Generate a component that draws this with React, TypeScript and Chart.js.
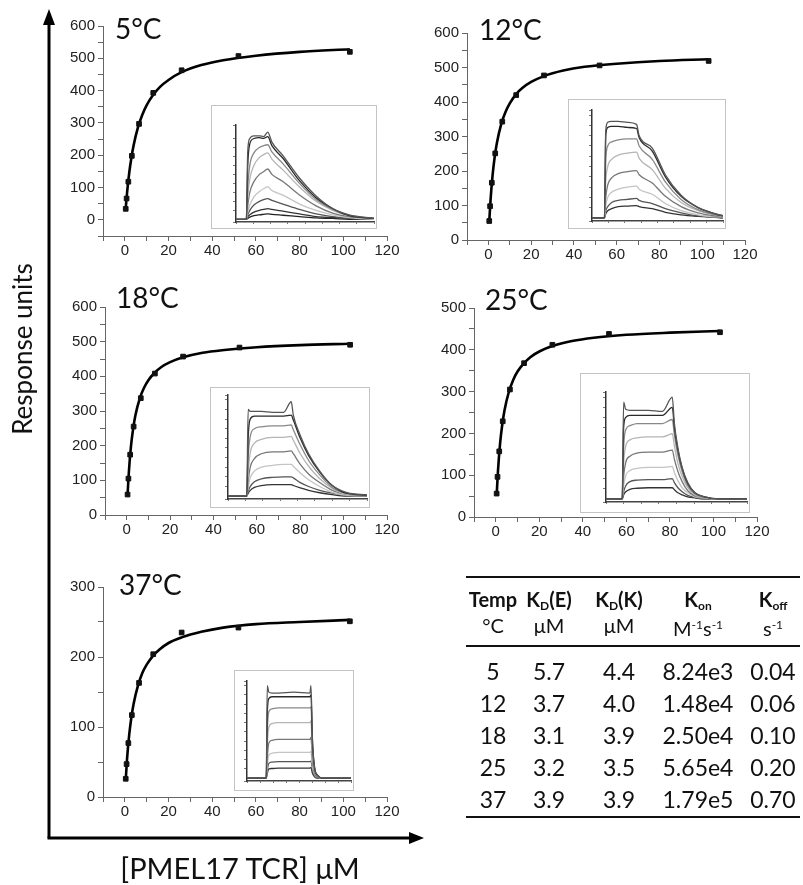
import React, { useEffect, useRef } from "react";
import { Chart, registerables } from "chart.js";
Chart.register(...registerables);

// ---------- data ----------
const concentrations = [0.4, 0.8, 1.6, 3.2, 6.5, 13, 26, 52, 103];
const resp5 = [34, 66, 118, 198, 297, 393, 463, 507, 520];
const resp12 = [55, 98, 166, 251, 343, 420, 477, 506, 519];
const resp18 = [59, 105, 174, 255, 337, 408, 457, 483, 491];
const resp25 = [56, 96, 157, 229, 305, 368, 412, 438, 442];
const resp37 = [26, 47, 77, 117, 163, 204, 235, 242, 251];

const fitX = [0.4, 1, 2, 3, 4, 6, 8, 10, 13, 16, 20, 26, 35, 45, 60, 80, 103];
const fit5 = [36, 83, 145, 192, 230, 286, 325, 355, 387, 411, 433, 457, 479, 494, 508, 520, 528];
const fit12 = [53, 115, 190, 243, 282, 336, 371, 396, 423, 441, 458, 475, 491, 502, 511, 519, 524];
const fit18 = [58, 124, 200, 250, 287, 336, 367, 389, 411, 427, 441, 455, 468, 476, 484, 490, 494];
const fit25 = [51, 109, 177, 222, 255, 299, 328, 348, 368, 383, 396, 409, 421, 429, 436, 441, 445];
const fit37 = [24, 54, 89, 114, 133, 159, 177, 189, 202, 211, 220, 228, 236, 242, 247, 250, 253];

const panelTitles = ["5°C", "12°C", "18°C", "25°C", "37°C"];
const xTickLabels = ["0", "20", "40", "60", "80", "100", "120"];

// sensorgram insets (normalised time 0-100, normalised response)
const inset5Time = [0, 7.5, 8.5, 10, 13, 17, 20, 23, 26, 34, 46, 58, 70, 82, 100];
const inset5Curves = [
  [0, 0, 0.75, 0.9, 0.93, 0.93, 0.92, 0.97, 0.86, 0.71, 0.46, 0.26, 0.12, 0.05, 0.01],
  [0, 0, 0.6, 0.84, 0.9, 0.91, 0.9, 0.92, 0.82, 0.68, 0.43, 0.24, 0.12, 0.04, 0.01],
  [0, 0, 0.35, 0.6, 0.74, 0.8, 0.82, 0.83, 0.75, 0.62, 0.4, 0.22, 0.11, 0.04, 0.01],
  [0, 0, 0.25, 0.45, 0.6, 0.69, 0.72, 0.74, 0.67, 0.55, 0.36, 0.2, 0.1, 0.04, 0.01],
  [0, 0, 0.15, 0.3, 0.42, 0.5, 0.53, 0.56, 0.5, 0.42, 0.27, 0.15, 0.07, 0.03, 0.01],
  [0, 0, 0.08, 0.16, 0.25, 0.31, 0.34, 0.36, 0.32, 0.27, 0.17, 0.1, 0.05, 0.02, 0],
  [0, 0, 0.05, 0.1, 0.16, 0.2, 0.22, 0.23, 0.21, 0.17, 0.11, 0.06, 0.03, 0.01, 0],
  [0, 0, 0.03, 0.05, 0.08, 0.1, 0.11, 0.12, 0.11, 0.09, 0.06, 0.03, 0.02, 0.01, 0],
  [0, 0, 0.01, 0.025, 0.04, 0.05, 0.055, 0.06, 0.055, 0.045, 0.03, 0.015, 0.01, 0, 0],
];
const inset12Time = [0, 9.5, 10.5, 12, 15, 20, 27, 34, 36, 46, 56, 68, 81, 94, 100];
const inset12Curves = [
  [0, 0, 0.85, 0.93, 0.94, 0.94, 0.93, 0.91, 0.8, 0.68, 0.42, 0.22, 0.1, 0.04, 0.02],
  [0, 0, 0.8, 0.88, 0.89, 0.89, 0.88, 0.87, 0.78, 0.65, 0.4, 0.21, 0.1, 0.04, 0.02],
  [0, 0, 0.55, 0.7, 0.74, 0.76, 0.77, 0.77, 0.7, 0.57, 0.35, 0.18, 0.08, 0.03, 0.02],
  [0, 0, 0.35, 0.5, 0.57, 0.61, 0.63, 0.64, 0.58, 0.47, 0.29, 0.15, 0.07, 0.03, 0.01],
  [0, 0, 0.2, 0.32, 0.39, 0.43, 0.45, 0.46, 0.42, 0.34, 0.21, 0.11, 0.05, 0.02, 0.01],
  [0, 0, 0.12, 0.2, 0.25, 0.28, 0.3, 0.31, 0.28, 0.23, 0.14, 0.07, 0.03, 0.01, 0.01],
  [0, 0, 0.07, 0.11, 0.15, 0.17, 0.18, 0.19, 0.17, 0.14, 0.09, 0.05, 0.02, 0.01, 0],
  [0, 0, 0.04, 0.07, 0.09, 0.11, 0.115, 0.12, 0.11, 0.09, 0.055, 0.03, 0.015, 0.005, 0],
];
const inset18Time = [0, 13.5, 14.5, 16, 19, 24, 32, 40, 45.5, 47, 52, 58, 66, 75, 85, 100];
const inset18Curves = [
  [0, 0, 0.9, 0.88, 0.88, 0.88, 0.87, 0.87, 0.98, 0.84, 0.63, 0.44, 0.26, 0.11, 0.04, 0.01],
  [0, 0, 0.6, 0.8, 0.83, 0.83, 0.83, 0.83, 0.84, 0.79, 0.6, 0.42, 0.25, 0.11, 0.03, 0.01],
  [0, 0, 0.4, 0.62, 0.7, 0.72, 0.73, 0.73, 0.74, 0.69, 0.53, 0.37, 0.22, 0.09, 0.03, 0.01],
  [0, 0, 0.25, 0.45, 0.55, 0.59, 0.61, 0.61, 0.62, 0.58, 0.44, 0.31, 0.18, 0.08, 0.02, 0.01],
  [0, 0, 0.15, 0.3, 0.39, 0.44, 0.46, 0.46, 0.47, 0.44, 0.33, 0.23, 0.14, 0.06, 0.02, 0],
  [0, 0, 0.09, 0.19, 0.26, 0.3, 0.32, 0.33, 0.33, 0.31, 0.24, 0.17, 0.1, 0.04, 0.01, 0],
  [0, 0, 0.05, 0.1, 0.15, 0.18, 0.195, 0.2, 0.2, 0.19, 0.14, 0.1, 0.06, 0.03, 0.01, 0],
  [0, 0, 0.03, 0.06, 0.09, 0.11, 0.12, 0.12, 0.12, 0.11, 0.085, 0.06, 0.035, 0.015, 0, 0],
];
const inset25Time = [0, 11.5, 12.5, 14, 17, 22, 30, 40, 47, 48.5, 51, 54, 58, 63, 70, 80, 100];
const inset25Curves = [
  [0, 0, 0.95, 0.88, 0.87, 0.87, 0.87, 0.86, 1.0, 0.74, 0.5, 0.31, 0.16, 0.06, 0.02, 0, 0],
  [0, 0, 0.7, 0.8, 0.82, 0.82, 0.82, 0.82, 0.9, 0.7, 0.48, 0.3, 0.15, 0.06, 0.02, 0, 0],
  [0, 0, 0.5, 0.68, 0.72, 0.74, 0.74, 0.74, 0.78, 0.63, 0.43, 0.27, 0.13, 0.05, 0.015, 0, 0],
  [0, 0, 0.35, 0.52, 0.58, 0.6, 0.61, 0.61, 0.64, 0.52, 0.35, 0.22, 0.11, 0.04, 0.01, 0, 0],
  [0, 0, 0.22, 0.36, 0.42, 0.45, 0.46, 0.46, 0.48, 0.39, 0.27, 0.17, 0.08, 0.03, 0.01, 0, 0],
  [0, 0, 0.13, 0.23, 0.28, 0.3, 0.31, 0.31, 0.32, 0.26, 0.18, 0.11, 0.06, 0.02, 0.01, 0, 0],
  [0, 0, 0.07, 0.13, 0.17, 0.185, 0.19, 0.19, 0.2, 0.16, 0.11, 0.07, 0.035, 0.015, 0, 0, 0],
  [0, 0, 0.04, 0.07, 0.095, 0.105, 0.11, 0.11, 0.11, 0.09, 0.06, 0.04, 0.02, 0.01, 0, 0, 0],
];
const inset37Time = [0, 18.5, 19.5, 21, 24, 30, 45, 60.5, 61.5, 63, 65, 68, 72, 100];
const inset37Curves = [
  [0, 0, 1.0, 0.93, 0.92, 0.92, 0.93, 0.92, 1.0, 0.4, 0.12, 0.03, 0, 0],
  [0, 0, 0.7, 0.86, 0.88, 0.88, 0.88, 0.88, 0.9, 0.38, 0.11, 0.03, 0, 0],
  [0, 0, 0.5, 0.72, 0.75, 0.76, 0.76, 0.76, 0.77, 0.33, 0.1, 0.02, 0, 0],
  [0, 0, 0.35, 0.55, 0.59, 0.6, 0.6, 0.6, 0.62, 0.26, 0.08, 0.02, 0, 0],
  [0, 0, 0.22, 0.38, 0.41, 0.42, 0.42, 0.42, 0.44, 0.18, 0.05, 0.01, 0, 0],
  [0, 0, 0.14, 0.25, 0.27, 0.28, 0.28, 0.28, 0.29, 0.12, 0.04, 0.01, 0, 0],
  [0, 0, 0.09, 0.16, 0.175, 0.18, 0.18, 0.18, 0.185, 0.08, 0.02, 0, 0, 0],
  [0, 0, 0.05, 0.1, 0.105, 0.11, 0.11, 0.11, 0.115, 0.05, 0.015, 0, 0, 0],
];
const insetShades = ["#555", "#2a2a2a", "#888", "#b5b5b5", "#777", "#c4c4c4", "#555", "#333", "#222"];

// table
const tableTemps = ["5", "12", "18", "25", "37"];
const tableKdE = ["5.7", "3.7", "3.1", "3.2", "3.9"];
const tableKdK = ["4.4", "4.0", "3.9", "3.5", "3.9"];
const tableKon = ["8.24e3", "1.48e4", "2.50e4", "5.65e4", "1.79e5"];
const tableKoff = ["0.04", "0.06", "0.10", "0.20", "0.70"];

// ---------- helpers ----------
type Box = { x: number; y: number; w: number; h: number };
type Area = { L: number; T: number; R: number; B: number };

const SANS = "Lato, 'Open Sans', sans-serif";
const TICKFONT = "'Liberation Sans', Arial, sans-serif";

function BindingChart(props: { box: Box; area: Area; yMin: number; yMax: number; pts: number[]; fit: number[] }) {
  const ref = useRef<HTMLCanvasElement>(null);
  const { box, area, yMin, yMax, pts, fit } = props;
  useEffect(() => {
    const yW = area.L - box.x;
    const xH = box.y + box.h - area.B;
    const chart = new Chart(ref.current!, {
      type: "scatter",
      data: {
        datasets: [
          {
            data: concentrations.map((x, i) => ({ x, y: pts[i] })),
            pointStyle: "rect",
            pointRadius: 3.3,
            backgroundColor: "#111",
            borderColor: "#111",
            showLine: false,
          },
          {
            data: fitX.map((x, i) => ({ x, y: fit[i] })),
            showLine: true,
            borderColor: "#000",
            borderWidth: 2.6,
            pointRadius: 0,
            cubicInterpolationMode: "monotone",
          },
        ],
      },
      options: {
        animation: false,
        responsive: false,
        events: [],
        layout: { padding: { left: 0, top: area.T - box.y, right: box.x + box.w - area.R, bottom: 0 } },
        plugins: { legend: { display: false }, tooltip: { enabled: false } },
        scales: {
          x: {
            type: "linear",
            min: -10,
            max: 120,
            afterFit: (s: any) => { s.height = xH; },
            ticks: {
              stepSize: 10,
              autoSkip: false,
              maxRotation: 0,
              padding: 1,
              color: "#222",
              font: { family: TICKFONT, size: 15 },
              callback: (v: any) => (Number(v) % 20 === 0 && Number(v) >= 0 ? xTickLabels[Number(v) / 20] : ""),
            },
            grid: { drawOnChartArea: false, tickLength: 5, color: "#666" },
            border: { color: "#666", width: 1 },
          },
          y: {
            type: "linear",
            min: yMin,
            max: yMax,
            afterFit: (s: any) => { s.width = yW; },
            ticks: {
              stepSize: 50,
              autoSkip: false,
              padding: 3,
              color: "#222",
              font: { family: TICKFONT, size: 15 },
              callback: (v: any) => (Number(v) % 100 === 0 && Number(v) >= 0 ? String(v) : ""),
            },
            grid: { drawOnChartArea: false, tickLength: 5, color: "#666" },
            border: { color: "#666", width: 1 },
          },
        },
      } as any,
    });
    return () => chart.destroy();
  }, []);
  return (
    <canvas
      ref={ref}
      width={box.w}
      height={box.h}
      style={{ position: "absolute", left: box.x, top: box.y, width: box.w, height: box.h }}
    />
  );
}

function InsetChart(props: { box: Box; area: Area; time: number[]; curves: number[][] }) {
  const ref = useRef<HTMLCanvasElement>(null);
  const { box, area, time, curves } = props;
  useEffect(() => {
    const yW = area.L - box.x;
    const xH = box.y + box.h - area.B;
    const chart = new Chart(ref.current!, {
      type: "line",
      data: {
        datasets: curves.map((c, k) => ({
          data: time.map((t, i) => ({ x: t, y: c[i] })),
          borderColor: insetShades[k % insetShades.length],
          borderWidth: 1.3,
          pointRadius: 0,
          cubicInterpolationMode: "monotone",
        })),
      },
      options: {
        animation: false,
        responsive: false,
        events: [],
        layout: { padding: { left: 0, top: area.T - box.y, right: box.x + box.w - area.R, bottom: 0 } },
        plugins: { legend: { display: false }, tooltip: { enabled: false } },
        scales: {
          x: {
            type: "linear",
            min: 0,
            max: 100,
            afterFit: (s: any) => { s.height = xH; },
            ticks: { stepSize: 12.5, autoSkip: false, maxRotation: 0, callback: () => "", font: { size: 4 } },
            grid: { drawOnChartArea: false, tickLength: 2, color: "#777" },
            border: { color: "#444", width: 1.5 },
          },
          y: {
            type: "linear",
            min: -0.03,
            max: 1.05,
            afterFit: (s: any) => { s.width = yW; },
            ticks: { stepSize: 0.1, autoSkip: false, callback: () => "", font: { size: 4 } },
            grid: { drawOnChartArea: false, tickLength: 3, color: "#777" },
            border: { color: "#333", width: 1.5 },
          },
        },
      } as any,
    });
    return () => chart.destroy();
  }, []);
  return (
    <>
      <div
        style={{
          position: "absolute",
          left: box.x,
          top: box.y,
          width: box.w,
          height: box.h,
          background: "#fff",
          border: "1px solid #c4c4c4",
          boxSizing: "border-box",
        }}
      />
      <canvas
        ref={ref}
        width={box.w}
        height={box.h}
        style={{ position: "absolute", left: box.x, top: box.y, width: box.w, height: box.h }}
      />
    </>
  );
}

function Txt(props: { x: number; base: number; size: number; children: any; bold?: boolean; center?: boolean; w?: number }) {
  const { x, base, size, bold, center } = props;
  const w = props.w ?? 120;
  return (
    <div
      style={{
        position: "absolute",
        left: center ? x - w / 2 : x,
        width: center ? w : undefined,
        top: base - 0.887 * size,
        fontFamily: SANS,
        fontSize: size,
        lineHeight: `${size}px`,
        fontWeight: bold ? 700 : 400,
        textAlign: center ? "center" : "left",
        whiteSpace: "nowrap",
        color: "#111",
      }}
    >
      {props.children}
    </div>
  );
}

export default function App() {
  const colCenters = [493, 549, 619, 698, 773];
  const rowBases = [680, 712, 744, 776, 808];
  const subStyle: React.CSSProperties = { fontSize: "0.6em", verticalAlign: "-0.25em" };
  const supStyle: React.CSSProperties = { fontSize: "0.6em", verticalAlign: "0.55em" };
  return (
    <div
      style={{
        position: "absolute",
        left: 0,
        top: 0,
        width: 803,
        height: 885,
        overflow: "hidden",
        background: "#fff",
      }}
    >
      <BindingChart box={{ x: 55, y: 10, w: 350, h: 262 }} area={{ L: 103, T: 26, R: 387, B: 236 }} yMin={-50} yMax={600} pts={resp5} fit={fit5} />
      <BindingChart box={{ x: 420, y: 15, w: 343, h: 265 }} area={{ L: 467, T: 33, R: 745, B: 240 }} yMin={0} yMax={600} pts={resp12} fit={fit12} />
      <BindingChart box={{ x: 55, y: 292, w: 350, h: 258 }} area={{ L: 105, T: 307, R: 387, B: 515 }} yMin={0} yMax={600} pts={resp18} fit={fit18} />
      <BindingChart box={{ x: 425, y: 292, w: 350, h: 260 }} area={{ L: 474, T: 308, R: 757, B: 517 }} yMin={0} yMax={500} pts={resp25} fit={fit25} />
      <BindingChart box={{ x: 55, y: 572, w: 350, h: 260 }} area={{ L: 103, T: 587, R: 387, B: 797 }} yMin={0} yMax={300} pts={resp37} fit={fit37} />

      <InsetChart box={{ x: 211, y: 105, w: 166, h: 124 }} area={{ L: 236, T: 125, R: 374, B: 222 }} time={inset5Time} curves={inset5Curves} />
      <InsetChart box={{ x: 568, y: 99, w: 158, h: 130 }} area={{ L: 592, T: 110, R: 724, B: 221 }} time={inset12Time} curves={inset12Curves} />
      <InsetChart box={{ x: 210, y: 387, w: 160, h: 121 }} area={{ L: 228, T: 395, R: 368, B: 499 }} time={inset18Time} curves={inset18Curves} />
      <InsetChart box={{ x: 580, y: 373, w: 170, h: 140 }} area={{ L: 606, T: 392, R: 748, B: 502 }} time={inset25Time} curves={inset25Curves} />
      <InsetChart box={{ x: 234, y: 670, w: 120, h: 121 }} area={{ L: 247, T: 681, R: 352, B: 781 }} time={inset37Time} curves={inset37Curves} />

      <Txt x={115} base={39} size={28}>{panelTitles[0]}</Txt>
      <Txt x={479} base={40} size={28}>{panelTitles[1]}</Txt>
      <Txt x={116} base={308} size={28}>{panelTitles[2]}</Txt>
      <Txt x={485} base={310} size={28}>{panelTitles[3]}</Txt>
      <Txt x={119} base={595} size={28}>{panelTitles[4]}</Txt>

      <svg width={803} height={885} style={{ position: "absolute", left: 0, top: 0, pointerEvents: "none" }}>
        <line x1={49} y1={20} x2={49} y2={838} stroke="#000" strokeWidth={3} />
        <line x1={47.5} y1={838} x2={412} y2={838} stroke="#000" strokeWidth={3} />
        <polygon points="49,9 43,25 55,25" fill="#000" />
        <polygon points="424,838 409,832 409,844" fill="#000" />
        <line x1={466} y1={577} x2={800} y2={577} stroke="#111" strokeWidth={1.8} />
        <line x1={466} y1={646} x2={800} y2={646} stroke="#111" strokeWidth={1.8} />
        <line x1={466} y1={817} x2={800} y2={817} stroke="#111" strokeWidth={1.8} />
      </svg>

      <div
        style={{
          position: "absolute",
          left: 22,
          top: 349,
          transform: "translate(-50%, -50%) rotate(-90deg)",
          fontFamily: SANS,
          fontSize: 26,
          whiteSpace: "nowrap",
          color: "#111",
        }}
      >
        Response units
      </div>
      <Txt x={240} base={879} size={29} center w={340}>[PMEL17 TCR] μM</Txt>

      {/* table */}
      <Txt x={colCenters[0]} base={607} size={20} bold center w={80}>Temp</Txt>
      <Txt x={colCenters[1]} base={607} size={20} bold center w={80}>K<span style={subStyle}>D</span>(E)</Txt>
      <Txt x={colCenters[2]} base={607} size={20} bold center w={80}>K<span style={subStyle}>D</span>(K)</Txt>
      <Txt x={colCenters[3]} base={607} size={20} bold center w={80}>K<span style={subStyle}>on</span></Txt>
      <Txt x={colCenters[4]} base={607} size={20} bold center w={80}>K<span style={subStyle}>off</span></Txt>
      <Txt x={colCenters[0]} base={633} size={20} center w={80}>°C</Txt>
      <Txt x={colCenters[1]} base={633} size={20} center w={80}>μM</Txt>
      <Txt x={colCenters[2]} base={633} size={20} center w={80}>μM</Txt>
      <Txt x={colCenters[3]} base={633} size={20} center w={90}>M<span style={supStyle}>-1</span>s<span style={supStyle}>-1</span></Txt>
      <Txt x={colCenters[4]} base={633} size={20} center w={80}>s<span style={supStyle}>-1</span></Txt>
      {tableTemps.map((t, i) => (
        <React.Fragment key={t}>
          <Txt x={colCenters[0]} base={rowBases[i]} size={23} center w={80}>{t}</Txt>
          <Txt x={colCenters[1]} base={rowBases[i]} size={23} center w={80}>{tableKdE[i]}</Txt>
          <Txt x={colCenters[2]} base={rowBases[i]} size={23} center w={80}>{tableKdK[i]}</Txt>
          <Txt x={colCenters[3]} base={rowBases[i]} size={23} center w={90}>{tableKon[i]}</Txt>
          <Txt x={colCenters[4]} base={rowBases[i]} size={23} center w={80}>{tableKoff[i]}</Txt>
        </React.Fragment>
      ))}
    </div>
  );
}
